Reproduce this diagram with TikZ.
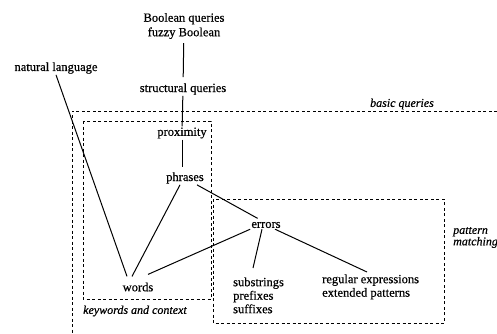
\documentclass[tikz,border=0pt]{standalone}
\usepackage{fontspec}
\setmainfont[FakeBold=0.5]{Liberation Serif}
\begin{document}
\begin{tikzpicture}[x=1pt,y=-1pt,
        lbl/.style={inner sep=1pt,font=\fontsize{12.5}{13.5}\selectfont},
        tag/.style={inner sep=1pt,font=\fontsize{12}{11.5}\selectfont\itshape},
        link/.style={line width=1pt},
        zone/.style={line width=0.8pt,dash pattern=on 3pt off 2.5pt}]
\useasboundingbox (0,0) rectangle (497,334);

% query kinds
\node[lbl,align=center] (bool) at (184,26) {Boolean queries\\[1pt]fuzzy Boolean};
\node[lbl] (struct) at (183,89) {structural queries};
\node[lbl] (natlang) at (56,68) {natural language};
\node[lbl] (prox) at (182,133) {proximity};
\node[lbl] (phr) at (185,178) {phrases};
\node[lbl] (errors) at (266,225) {errors};
\node[lbl,inner ysep=6pt] (words) at (138,287) {words};
\node[lbl,align=left,anchor=north west] (substr) at (232,276.3) {substrings\\prefixes\\suffixes};
\node[lbl,align=left,anchor=north west] (regex) at (321,273.3) {regular expressions\\extended patterns};

% areas
\draw[zone] (497,111) -- (72,111) -- (72,334);
\draw[zone] (83,121) rectangle (211,299);
\draw[zone] (213,199) rectangle (444,323);
\node[tag] (basic) at (402,104) {basic queries};
\node[tag,anchor=west] (keyw) at (82,311) {keywords and context};
\node[tag,align=left,anchor=west] (pattern) at (452,237.5) {pattern\\matching};

\draw[link,shorten <=3pt,shorten >=5pt] (bool) -- (struct);
\draw[link] (struct) -- (prox);
\draw[link,shorten >=4pt] (prox) -- (prox |- phr.north);
\draw[link] (natlang.south) -- ([xshift=-11pt]words.north);
\draw[link] ([xshift=-5pt]phr.south) -- ([xshift=-6pt]words.north);
\draw[link,shorten >=5pt] ([xshift=12pt]phr.south) -- ([xshift=-4pt]errors.north);
\draw[link] (errors.south west) -- ([xshift=10pt,yshift=2pt]words.north);
\draw[link] ([xshift=-4pt]errors.south) -- ([xshift=21pt,yshift=8.3pt]substr.north west);
\draw[link] ([xshift=9pt]errors.south) -- ([xshift=46pt,yshift=1.3pt]regex.north west);
\end{tikzpicture}
\end{document}
